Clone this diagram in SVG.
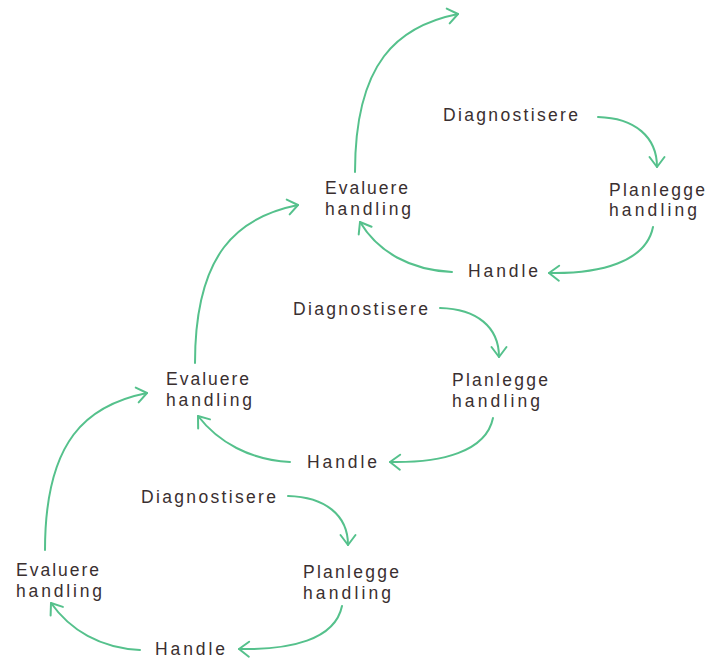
<svg xmlns="http://www.w3.org/2000/svg" width="707" height="660" viewBox="0 0 707 660">
<style>
text{font-family:"Liberation Sans","Open Sans",sans-serif;font-size:17.5px;fill:#3a2f30}
.c path{fill:none;stroke:#55c18c;stroke-width:2;stroke-linecap:round}
</style>
<defs>
<marker id="ah" markerUnits="userSpaceOnUse" markerWidth="24" markerHeight="24" refX="12" refY="12" orient="auto" viewBox="0 0 24 24">
<path d="M2 4.5 L12 12 L2 19.5" fill="none" stroke="#55c18c" stroke-width="2" stroke-linecap="round" stroke-linejoin="round"/>
</marker>
</defs>
<rect width="707" height="660" fill="#fff"/>
<g class="c" id="connectors">
<path marker-end="url(#ah)" d="M288 496 C325 497 348 515 348 545"/>
<path marker-end="url(#ah)" d="M342 606 C335 640 290 650 239 649"/>
<path marker-end="url(#ah)" d="M140 650 C100 648 70 630 51 603"/>
<path marker-end="url(#ah)" d="M45 550 C45 440 87 405 147 393"/>
<path marker-end="url(#ah)" d="M440 308 C477 309 499 327 499 357"/>
<path marker-end="url(#ah)" d="M493 418 C486 452 441 463 390 462"/>
<path marker-end="url(#ah)" d="M290 462 C250 460 218 442 198 416"/>
<path marker-end="url(#ah)" d="M195 363 C195 253 238 217 298 205"/>
<path marker-end="url(#ah)" d="M598 117 C635 118 657 137 657 167"/>
<path marker-end="url(#ah)" d="M653 227 C646 262 600 274 549 273"/>
<path marker-end="url(#ah)" d="M452 272 C410 270 378 252 360 222"/>
<path marker-end="url(#ah)" d="M355 172 C355 62 398 26 458 14"/>
</g>
<g id="diag1"><text x="141" y="503" textLength="135" lengthAdjust="spacing">Diagnostisere</text></g>
<g id="plan1"><text x="303" y="578" textLength="96" lengthAdjust="spacing">Planlegge</text><text x="303" y="599" textLength="88" lengthAdjust="spacing">handling</text></g>
<g id="handle1"><text x="155" y="655" textLength="70" lengthAdjust="spacing">Handle</text></g>
<g id="eval1"><text x="16" y="576" textLength="83" lengthAdjust="spacing">Evaluere</text><text x="16" y="597" textLength="86" lengthAdjust="spacing">handling</text></g>
<g id="diag2"><text x="293" y="315" textLength="135" lengthAdjust="spacing">Diagnostisere</text></g>
<g id="plan2"><text x="452" y="386" textLength="96" lengthAdjust="spacing">Planlegge</text><text x="452" y="407" textLength="88" lengthAdjust="spacing">handling</text></g>
<g id="handle2"><text x="307" y="468" textLength="70" lengthAdjust="spacing">Handle</text></g>
<g id="eval2"><text x="166" y="385" textLength="83" lengthAdjust="spacing">Evaluere</text><text x="166" y="406" textLength="86" lengthAdjust="spacing">handling</text></g>
<g id="diag3"><text x="443" y="121" textLength="135" lengthAdjust="spacing">Diagnostisere</text></g>
<g id="plan3"><text x="609" y="196" textLength="96" lengthAdjust="spacing">Planlegge</text><text x="609" y="216" textLength="88" lengthAdjust="spacing">handling</text></g>
<g id="handle3"><text x="468" y="277" textLength="70" lengthAdjust="spacing">Handle</text></g>
<g id="eval3"><text x="325" y="194" textLength="83" lengthAdjust="spacing">Evaluere</text><text x="325" y="215" textLength="86" lengthAdjust="spacing">handling</text></g>
</svg>
